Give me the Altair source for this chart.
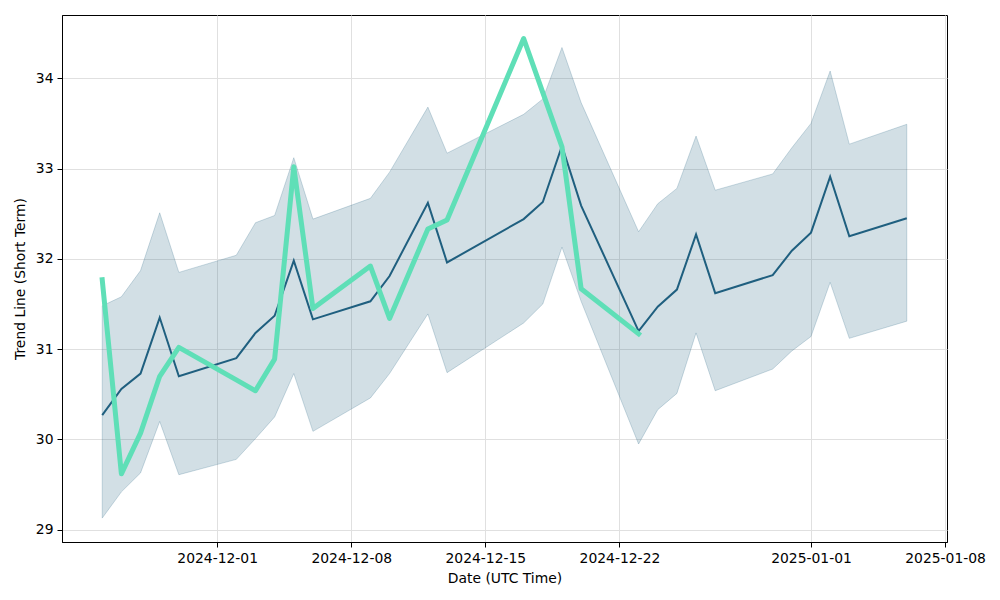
import altair as alt
import pandas as pd

dates = ["2024-11-25", "2024-11-26", "2024-11-27", "2024-11-28", "2024-11-29",
         "2024-12-02", "2024-12-03", "2024-12-04", "2024-12-05", "2024-12-06",
         "2024-12-09", "2024-12-10", "2024-12-12", "2024-12-13", "2024-12-17",
         "2024-12-18", "2024-12-19", "2024-12-20", "2024-12-23", "2024-12-24",
         "2024-12-25", "2024-12-26", "2024-12-27", "2024-12-30", "2024-12-31",
         "2025-01-01", "2025-01-02", "2025-01-03", "2025-01-06"]

trend = [30.27, 30.56, 30.73, 31.35, 30.70, 30.90, 31.18, 31.37, 31.98, 31.33,
         31.53, 31.81, 32.62, 31.96, 32.44, 32.63, 33.25, 32.59, 31.20, 31.47,
         31.66, 32.27, 31.62, 31.82, 32.09, 32.29, 32.91, 32.25, 32.45]

upper = [31.48, 31.58, 31.87, 32.51, 31.85, 32.04, 32.40, 32.48, 33.12, 32.44,
         32.67, 32.96, 33.68, 33.17, 33.60, 33.77, 34.34, 33.73, 32.30, 32.61,
         32.78, 33.36, 32.76, 32.94, 33.23, 33.50, 34.08, 33.27, 33.49]

lower = [29.13, 29.42, 29.63, 30.20, 29.61, 29.78, 30.01, 30.25, 30.73, 30.09,
         30.46, 30.73, 31.39, 30.74, 31.29, 31.50, 32.13, 31.53, 29.95, 30.33,
         30.51, 31.18, 30.54, 30.78, 30.98, 31.14, 31.74, 31.12, 31.31]

price_dates = dates[:19]
price = [31.77, 29.62, 30.07, 30.70, 31.02, 30.66, 30.54, 30.89, 33.02, 31.45,
         31.92, 31.34, 32.33, 32.43, 34.44, 33.84, 33.24, 31.67, 31.17]

x_ticks = ["2024-12-01", "2024-12-08", "2024-12-15", "2024-12-22", "2025-01-01", "2025-01-08"]
y_ticks = [29, 30, 31, 32, 33, 34]

band_df = pd.DataFrame({"date": dates, "trend": trend, "upper": upper, "lower": lower})
price_df = pd.DataFrame({"date": price_dates, "price": price})

FONT = "DejaVu Sans"
DARK = "#1f5f7f"
GREEN = "#5fdfb7"


def dt(s, h=0, m=0):
    y, mo, d = (int(v) for v in s.split("-"))
    return alt.DateTime(year=y, month=mo, date=d, hours=h, minutes=m, utc=True)


x_scale = alt.Scale(type="utc", domain=[dt("2024-11-22", 21, 36), dt("2025-01-08", 2, 24)], nice=False)
y_scale = alt.Scale(domain=[28.865, 34.70], nice=False, zero=False)

x_enc = alt.X("date:T", scale=x_scale, title="Date (UTC Time)",
              axis=alt.Axis(values=[dt(s) for s in x_ticks],
                            labelExpr="utcFormat(datum.value, '%Y-%m-%d')",
                            labelAngle=0))
y_axis = alt.Axis(values=y_ticks, format="d")

band = alt.Chart(band_df).mark_area(
    color=DARK, fillOpacity=0.2, stroke=DARK, strokeOpacity=0.22, strokeWidth=1
).encode(
    x=x_enc,
    y=alt.Y("lower:Q", scale=y_scale, axis=y_axis, title="Trend Line (Short Term)"),
    y2="upper:Q",
)

trend_line = alt.Chart(band_df).mark_line(color=DARK, strokeWidth=2).encode(
    x=x_enc,
    y=alt.Y("trend:Q", scale=y_scale),
)

price_line = alt.Chart(price_df).mark_line(
    color=GREEN, strokeWidth=5, strokeCap="square", strokeJoin="round"
).encode(
    x=x_enc,
    y=alt.Y("price:Q", scale=y_scale),
)

chart = alt.layer(band, trend_line, price_line).properties(
    width=885, height=527,
    autosize=alt.AutoSizeParams(type="none"),
    padding={"left": 54, "top": 7, "right": 45, "bottom": 50},
).configure_view(
    stroke="black", strokeWidth=1
).configure_axis(
    labelFont=FONT, titleFont=FONT, labelFontSize=13.9, titleFontSize=13.9,
    labelColor="black", titleColor="black", titleFontWeight="normal",
    domainColor="black", domainWidth=1, tickColor="black", tickSize=5, tickWidth=1,
    labelPadding=4, gridColor="#e0e0e0", gridWidth=1, grid=True,
).configure_axisX(
    titlePadding=7,
).configure_axisY(
    titlePadding=8,
)

chart.save("out.html", embed_options={"renderer": "svg", "actions": False})
